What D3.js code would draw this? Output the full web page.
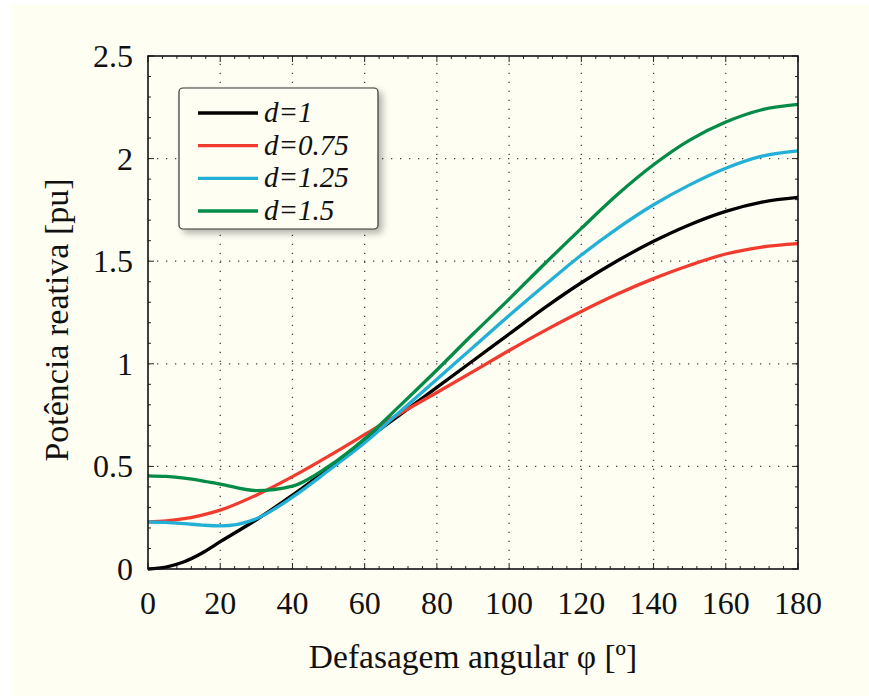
<!DOCTYPE html>
<html>
<head>
<meta charset="utf-8">
<script src="https://cdn.jsdelivr.net/npm/d3@7"></script>
<style>
  html, body { margin: 0; padding: 0; background: #ffffff; }
  svg { display: block; }
  text { font-family: "Liberation Serif", "Times New Roman", serif; fill: #111; }
</style>
</head>
<body>
<div id="chart"></div>
<script>
// phase shift (degrees)
const phi = [0, 5, 10, 15, 20, 30, 40, 50, 60, 70, 80, 90, 100, 110, 120, 130, 140, 150, 160, 170, 180];

// reactive power [pu] for each d
const qD1 = [0, 0.009, 0.035, 0.078, 0.133, 0.24, 0.36, 0.49, 0.625, 0.755, 0.885, 1.015, 1.145, 1.275, 1.395, 1.502, 1.597, 1.678, 1.743, 1.788, 1.811];
const qD075 = [0.23, 0.234, 0.245, 0.263, 0.287, 0.36, 0.45, 0.55, 0.655, 0.76, 0.86, 0.962, 1.065, 1.163, 1.255, 1.34, 1.415, 1.48, 1.535, 1.569, 1.586];
const qD125 = [0.23, 0.227, 0.221, 0.214, 0.21, 0.245, 0.35, 0.48, 0.615, 0.77, 0.925, 1.08, 1.235, 1.385, 1.53, 1.66, 1.775, 1.872, 1.953, 2.012, 2.038];
const qD15 = [0.454, 0.451, 0.443, 0.43, 0.414, 0.382, 0.404, 0.5, 0.635, 0.8, 0.97, 1.145, 1.315, 1.49, 1.66, 1.825, 1.97, 2.09, 2.178, 2.238, 2.264];

const seriesNames = ["d=1", "d=0.75", "d=1.25", "d=1.5"];
const seriesColors = ["#000000", "#f23b2f", "#22b0d6", "#038b47"];

const xTicks = [0, 20, 40, 60, 80, 100, 120, 140, 160, 180];
const yTicks = [0, 0.5, 1, 1.5, 2, 2.5];

const width = 869;
const height = 696;
const margin = { top: 56, right: 71, bottom: 127, left: 148 };

const series = [qD1, qD075, qD125, qD15].map((values, i) => ({
  name: seriesNames[i],
  color: seriesColors[i],
  points: values.map((v, j) => ({ x: phi[j], y: v })),
}));

const x = d3.scaleLinear().domain([0, 180]).range([margin.left, width - margin.right]);
const y = d3.scaleLinear().domain([0, 2.5]).range([height - margin.bottom, margin.top]);

const svg = d3.select("#chart").append("svg")
  .attr("width", width)
  .attr("height", height)
  .attr("viewBox", [0, 0, width, height]);

const defs = svg.append("defs");
const shadow = defs.append("filter").attr("id", "shadow")
  .attr("x", "-10%").attr("y", "-10%").attr("width", "130%").attr("height", "140%");
shadow.append("feGaussianBlur").attr("in", "SourceAlpha").attr("stdDeviation", 3.5);
shadow.append("feOffset").attr("dx", 4).attr("dy", 4).attr("result", "off");
shadow.append("feComponentTransfer").append("feFuncA").attr("type", "linear").attr("slope", 0.3);
const merge = shadow.append("feMerge");
merge.append("feMergeNode");
merge.append("feMergeNode").attr("in", "SourceGraphic");

defs.append("clipPath").attr("id", "plot-clip")
  .append("rect")
  .attr("x", margin.left).attr("y", margin.top - 2)
  .attr("width", width - margin.left - margin.right)
  .attr("height", height - margin.top - margin.bottom + 4);

// figure background
svg.append("rect")
  .attr("x", 12).attr("y", 5)
  .attr("width", width - 12).attr("height", height - 5)
  .attr("fill", "#fefef2");

const x0 = x.range()[0], x1 = x.range()[1];
const y0 = y.range()[0], y1 = y.range()[1];

// dotted grid
const gGrid = svg.append("g")
  .attr("stroke", "#444")
  .attr("stroke-width", 1.3)
  .attr("stroke-dasharray", "1.3,7.7");
gGrid.selectAll(".vgrid")
  .data(xTicks.slice(1, -1))
  .join("line")
  .attr("x1", (d) => x(d)).attr("x2", (d) => x(d))
  .attr("y1", y0).attr("y2", y1);
gGrid.selectAll(".hgrid")
  .data(yTicks.slice(1, -1))
  .join("line")
  .attr("y1", (d) => y(d)).attr("y2", (d) => y(d))
  .attr("x1", x0).attr("x2", x1);

// ticks on all four sides, pointing inward
const minorX = d3.range(0, 181, 4).filter((d) => d % 20 !== 0);
const minorY = d3.range(0, 25).map((d) => d / 10).filter((d) => Math.round(d * 10) % 5 !== 0);
const gTicks = svg.append("g").attr("stroke", "#222").attr("stroke-width", 1);

const addXTicks = (vals, len) => {
  const g = gTicks.append("g");
  g.selectAll("line.b").data(vals).join("line").attr("class", "b")
    .attr("x1", (d) => x(d)).attr("x2", (d) => x(d)).attr("y1", y0).attr("y2", y0 - len);
  g.selectAll("line.t").data(vals).join("line").attr("class", "t")
    .attr("x1", (d) => x(d)).attr("x2", (d) => x(d)).attr("y1", y1).attr("y2", y1 + len);
};
const addYTicks = (vals, len) => {
  const g = gTicks.append("g");
  g.selectAll("line.l").data(vals).join("line").attr("class", "l")
    .attr("y1", (d) => y(d)).attr("y2", (d) => y(d)).attr("x1", x0).attr("x2", x0 + len);
  g.selectAll("line.r").data(vals).join("line").attr("class", "r")
    .attr("y1", (d) => y(d)).attr("y2", (d) => y(d)).attr("x1", x1).attr("x2", x1 - len);
};
addXTicks(xTicks, 6);
addXTicks(minorX, 3);
addYTicks(yTicks, 6);
addYTicks(minorY, 3);

// curves
const line = d3.line()
  .x((d) => x(d.x))
  .y((d) => y(d.y))
  .curve(d3.curveMonotoneX);

svg.append("g")
  .attr("clip-path", "url(#plot-clip)")
  .selectAll("path")
  .data(series)
  .join("path")
  .attr("fill", "none")
  .attr("stroke", (d) => d.color)
  .attr("stroke-width", 3.3)
  .attr("stroke-linejoin", "round")
  .attr("d", (d) => line(d.points));

// frame
svg.append("rect")
  .attr("x", x0).attr("y", y1)
  .attr("width", x1 - x0).attr("height", y0 - y1)
  .attr("fill", "none")
  .attr("stroke", "#111")
  .attr("stroke-width", 1.6);

// tick labels
svg.append("g")
  .attr("font-size", 32)
  .attr("text-anchor", "middle")
  .selectAll("text")
  .data(xTicks)
  .join("text")
  .attr("x", (d) => x(d))
  .attr("y", y0 + 45)
  .text((d) => d);

svg.append("g")
  .attr("font-size", 32)
  .attr("text-anchor", "end")
  .selectAll("text")
  .data(yTicks)
  .join("text")
  .attr("x", x0 - 15)
  .attr("y", (d) => y(d) + 11)
  .text((d) => d);

// axis titles
svg.append("text")
  .attr("x", (x0 + x1) / 2)
  .attr("y", 668)
  .attr("text-anchor", "middle")
  .attr("font-size", 33.5)
  .text("Defasagem angular φ [º]");

svg.append("text")
  .attr("transform", `translate(68,320) rotate(-90)`)
  .attr("text-anchor", "middle")
  .attr("font-size", 34)
  .text("Potência reativa [pu]");

// legend
const legend = svg.append("g");
legend.append("rect")
  .attr("x", 179).attr("y", 88)
  .attr("width", 199).attr("height", 141)
  .attr("rx", 4)
  .attr("fill", "#fefef2")
  .attr("stroke", "#333")
  .attr("stroke-width", 1.2)
  .attr("filter", "url(#shadow)");

const rowY = d3.scalePoint().domain(seriesNames).range([113, 211]);
const rows = legend.selectAll(".row")
  .data(series)
  .join("g")
  .attr("class", "row")
  .attr("transform", (d) => `translate(0,${rowY(d.name)})`);
rows.append("line")
  .attr("x1", 198).attr("x2", 258)
  .attr("stroke", (d) => d.color)
  .attr("stroke-width", 3.3);
rows.append("text")
  .attr("x", 264)
  .attr("y", 9)
  .attr("font-size", 29)
  .attr("font-style", "italic")
  .text((d) => d.name);
</script>
</body>
</html>
